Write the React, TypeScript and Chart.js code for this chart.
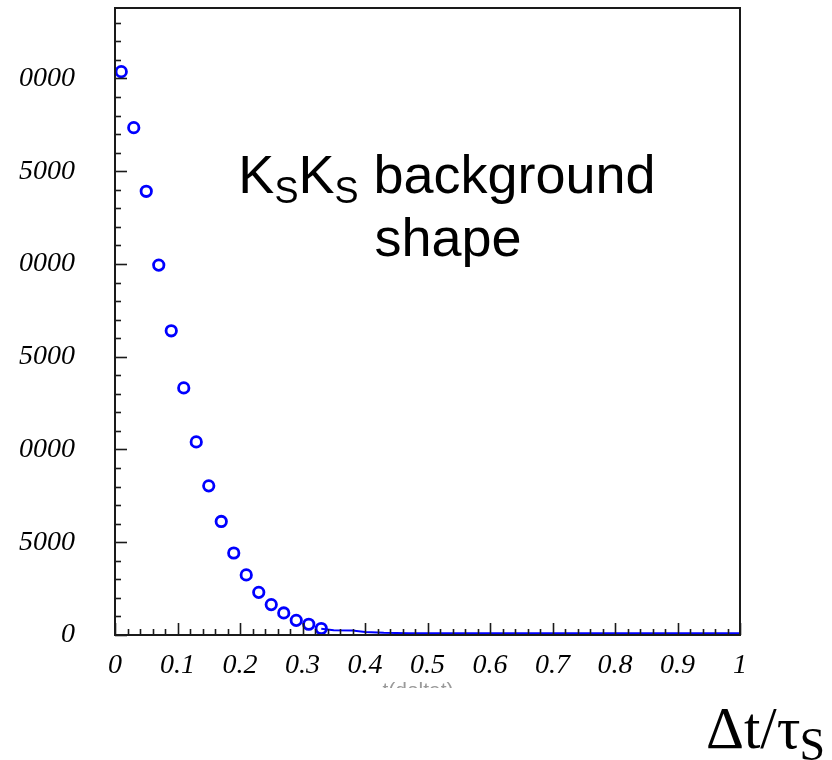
import React, { useEffect, useRef } from "react";
import { Chart, registerables } from "chart.js";

Chart.register(...registerables);

// Bin centres (Δt/τS) and counts of the KSKS background shape
const binCenters = [0.01, 0.03, 0.05, 0.07, 0.09, 0.11, 0.13, 0.15, 0.17, 0.19, 0.21, 0.23, 0.25, 0.27, 0.29, 0.31, 0.33];
const binCounts = [30370, 27350, 23920, 19940, 16400, 13320, 10410, 8040, 6120, 4420, 3240, 2300, 1640, 1190, 790, 580, 350];

// Continuation curve drawn along the bottom
const tailX = [0.33, 0.35, 0.38, 0.4, 0.43, 0.47, 1.0];
const tailY = [340, 260, 240, 160, 120, 100, 100];

// Axis ticks (labels as visible in the cropped picture)
const xTickValues = [0, 0.1, 0.2, 0.3, 0.4, 0.5, 0.6, 0.7, 0.8, 0.9, 1];
const xTickLabels = ["0", "0.1", "0.2", "0.3", "0.4", "0.5", "0.6", "0.7", "0.8", "0.9", "1"];
const yTickValues = [0, 5000, 10000, 15000, 20000, 25000, 30000];
const yTickLabels = ["0", "5000", "0000", "5000", "0000", "5000", "0000"];
const yMax = 33800;
const yMinorStep = 1000;
const xMinorStep = 0.02;

const BLUE = "#0000ff";

const framePlugin = {
  id: "rootFrame",
  afterDatasetsDraw(chart: any) {
    const { ctx, chartArea } = chart;
    const xs = chart.scales.x;
    const ys = chart.scales.y;
    const { left, right, top, bottom } = chartArea;
    ctx.save();
    ctx.strokeStyle = "#1a1a1a";
    ctx.lineWidth = 1.6;
    for (let i = 0; i * yMinorStep <= yMax; i++) {
      const v = i * yMinorStep;
      const py = Math.round(ys.getPixelForValue(v)) + 0.5;
      const len = v % 5000 === 0 ? 12 : 6;
      ctx.beginPath();
      ctx.moveTo(left, py);
      ctx.lineTo(left + len, py);
      ctx.stroke();
    }
    for (let i = 0; i <= 50; i++) {
      const v = i * xMinorStep;
      const px = Math.round(xs.getPixelForValue(v)) + 0.5;
      const len = i % 5 === 0 ? 12 : 6;
      ctx.beginPath();
      ctx.moveTo(px, bottom);
      ctx.lineTo(px, bottom - len);
      ctx.stroke();
    }
    ctx.lineWidth = 2;
    ctx.strokeRect(left, top, right - left, bottom - top);
    ctx.restore();
  },
  afterDraw(chart: any) {
    const { ctx } = chart;
    ctx.save();
    ctx.fillStyle = "#000";
    ctx.textBaseline = "alphabetic";
    const big = "54px 'Liberation Sans', Arial, sans-serif";
    const small = "36px 'Liberation Sans', Arial, sans-serif";
    const parts: [string, boolean][] = [["K", false], ["S", true], ["K", false], ["S", true], [" background", false]];
    let total = 0;
    const widths = parts.map(([t, sub]) => {
      ctx.font = sub ? small : big;
      const w = ctx.measureText(t).width;
      total += w;
      return w;
    });
    let x = 447 - total / 2;
    const base1 = 193;
    parts.forEach(([t, sub], i) => {
      ctx.font = sub ? small : big;
      ctx.textAlign = "left";
      ctx.fillText(t, x, sub ? base1 + 10 : base1);
      x += widths[i];
    });
    ctx.font = big;
    ctx.textAlign = "center";
    ctx.fillText("shape", 448, 256);

    // axis title Δt/τS
    ctx.textAlign = "left";
    ctx.font = "59px 'Liberation Serif', 'Times New Roman', serif";
    ctx.fillText("\u0394t/\u03c4", 706, 748);
    const w1 = ctx.measureText("\u0394t/\u03c4").width;
    ctx.font = "46px 'Liberation Serif', 'Times New Roman', serif";
    ctx.fillText("S", 705 + w1, 760);

    // faint, partly hidden ROOT axis title
    ctx.save();
    ctx.beginPath();
    ctx.rect(360, 676, 130, 12);
    ctx.clip();
    ctx.fillStyle = "#9a9a9a";
    ctx.font = "21px 'Liberation Sans', Arial, sans-serif";
    ctx.textAlign = "center";
    ctx.textBaseline = "top";
    ctx.fillText("t(deltat)", 418, 681);
    ctx.restore();
    ctx.restore();
  },
};

export default function App() {
  const canvasRef = useRef<HTMLCanvasElement | null>(null);

  useEffect(() => {
    if (!canvasRef.current) return;
    const chart = new Chart(canvasRef.current, {
      type: "scatter",
      data: {
        datasets: [
          {
            label: "KSKS background shape",
            data: binCenters.map((c, i) => ({ x: c, y: binCounts[i] })),
            showLine: false,
            pointStyle: "circle",
            pointRadius: 5.2,
            pointBorderWidth: 2.8,
            borderColor: BLUE,
            backgroundColor: "rgba(0,0,0,0)",
            pointBackgroundColor: "rgba(0,0,0,0)",
            pointBorderColor: BLUE,
          },
          {
            label: "tail",
            data: tailX.map((t, i) => ({ x: t, y: tailY[i] })),
            showLine: true,
            pointRadius: 0,
            borderColor: BLUE,
            borderWidth: 2,
            backgroundColor: "rgba(0,0,0,0)",
          },
        ],
      },
      options: {
        animation: false,
        responsive: true,
        maintainAspectRatio: false,
        layout: { padding: { left: 0, top: 8, right: 92, bottom: 0 } },
        plugins: {
          legend: { display: false },
          tooltip: { enabled: false },
        },
        scales: {
          x: {
            type: "linear",
            min: 0,
            max: 1,
            afterBuildTicks: (scale: any) => {
              scale.ticks = xTickValues.map((v) => ({ value: v }));
            },
            afterFit: (scale: any) => {
              scale.height = 125;
              scale.paddingLeft = 0;
              scale.paddingRight = 0;
            },
            grid: { display: false, drawTicks: false },
            border: { display: false },
            ticks: {
              padding: 14,
              color: "#000",
              maxRotation: 0,
              autoSkip: false,
              font: { family: "'Liberation Serif', 'Times New Roman', serif", size: 28, style: "italic" },
              callback: (_v: any, i: number) => xTickLabels[i],
            },
          },
          y: {
            type: "linear",
            min: 0,
            max: yMax,
            afterBuildTicks: (scale: any) => {
              scale.ticks = yTickValues.map((v) => ({ value: v }));
            },
            afterFit: (scale: any) => {
              scale.width = 115;
              scale.paddingTop = 0;
              scale.paddingBottom = 0;
            },
            grid: { display: false, drawTicks: false },
            border: { display: false },
            ticks: {
              padding: 40,
              color: "#000",
              autoSkip: false,
              font: { family: "'Liberation Serif', 'Times New Roman', serif", size: 28, style: "italic" },
              callback: (_v: any, i: number) => yTickLabels[i],
            },
          },
        },
      },
      plugins: [framePlugin],
    });
    return () => chart.destroy();
  }, []);

  return (
    <div style={{ position: "absolute", left: 0, top: 0, width: 832, height: 760, background: "#fff" }}>
      <canvas ref={canvasRef} />
    </div>
  );
}
